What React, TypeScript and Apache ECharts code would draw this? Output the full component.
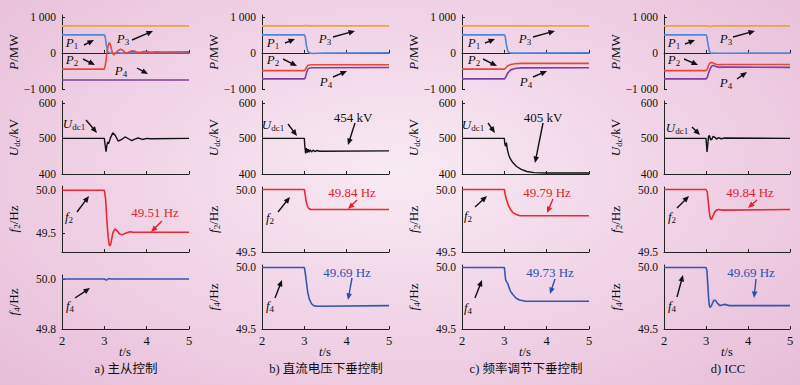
import React, { useEffect, useRef } from "react";
import * as echarts from "echarts";

// ---------- tick values ----------
const T_TICKS = [2, 3, 4, 5];
const P_TICKS = [-1000, 0, 1000];
const U_TICKS = [400, 500, 600];
const F_TICKS = [49.5, 50.0];
const F4A_TICKS = [49.8, 50.0];

// ---------- a) master-slave ----------
const aP1 = [[2, 500], [3, 500], [3.02, 450], [3.05, 200], [3.08, 40], [3.12, 0], [3.2, -10], [3.3, 5], [3.4, -5], [3.6, 2], [5, 0]];
const aP2 = [[2, -450], [3, -450], [3.03, -300], [3.06, 0], [3.09, 200], [3.12, 290], [3.15, 200], [3.19, 0], [3.22, -50], [3.26, -20], [3.32, 60], [3.38, 100], [3.43, 80], [3.5, 0], [3.56, 10], [3.63, 50], [3.7, 55], [3.78, 20], [3.86, 15], [3.94, 40], [4.02, 35], [4.1, 20], [4.2, 30], [4.4, 25], [5, 30]];
const aP3 = [[2, 750], [3, 750], [4, 750], [5, 750]];
const aP4 = [[2, -750], [3, -750], [4, -750], [5, -750]];
const aU = [[2, 500], [3, 500], [3.02, 480], [3.04, 463], [3.06, 480], [3.08, 490], [3.1, 485], [3.14, 500], [3.2, 516], [3.26, 508], [3.33, 492], [3.41, 497], [3.49, 504], [3.57, 499], [3.65, 494], [3.72, 498], [3.8, 501], [3.9, 497], [4.0, 500], [4.1, 499], [5, 500]];
const aF2 = [[2, 50], [3, 50], [3.03, 49.9], [3.06, 49.65], [3.09, 49.45], [3.12, 49.35], [3.15, 49.37], [3.2, 49.5], [3.25, 49.55], [3.3, 49.53], [3.36, 49.49], [3.42, 49.48], [3.5, 49.5], [3.6, 49.515], [3.7, 49.51], [5, 49.51]];
const aF4 = [[2, 50], [3, 50], [3.03, 49.997], [3.06, 49.996], [3.1, 50.002], [3.15, 50.0], [5, 50]];

// ---------- b) DC voltage droop ----------
const bP1 = [[2, 500], [3, 500], [3.02, 450], [3.05, 200], [3.08, 50], [3.12, 0], [3.18, -15], [3.3, -10], [3.5, -5], [5, 0]];
const bP2 = [[2, -490], [3, -490], [3.02, -470], [3.05, -400], [3.08, -350], [3.12, -335], [3.2, -330], [5, -330]];
const bP3 = [[2, 750], [3, 750], [3.03, 770], [3.06, 745], [3.1, 755], [3.15, 750], [5, 750]];
const bP4 = [[2, -720], [3, -720], [3.02, -700], [3.05, -560], [3.08, -450], [3.12, -420], [3.2, -410], [5, -405]];
const bU = [[2, 500], [3, 500], [3.01, 480], [3.03, 458], [3.05, 473], [3.07, 460], [3.09, 470], [3.11, 461], [3.14, 468], [3.17, 462], [3.21, 467], [3.25, 463], [3.3, 466], [3.36, 464], [5, 465]];
const bF2 = [[2, 50], [3, 50], [3.02, 49.96], [3.04, 49.91], [3.07, 49.87], [3.1, 49.85], [3.15, 49.84], [5, 49.84]];
const bF4 = [[2, 50], [3, 50], [3.02, 49.96], [3.05, 49.88], [3.08, 49.8], [3.12, 49.74], [3.17, 49.705], [3.22, 49.69], [3.3, 49.685], [5, 49.69]];

// ---------- c) frequency regulation droop ----------
const cP1 = [[2, 500], [3, 500], [3.02, 460], [3.05, 220], [3.08, 60], [3.12, 5], [3.2, -5], [5, 0]];
const cP2 = [[2, -450], [3, -450], [3.03, -420], [3.08, -360], [3.15, -320], [3.25, -300], [3.4, -290], [5, -290]];
const cP3 = [[2, 750], [3, 750], [4, 750], [5, 750]];
const cP4 = [[2, -720], [3, -720], [3.03, -680], [3.08, -560], [3.15, -470], [3.25, -430], [3.4, -415], [5, -410]];
const cU = [[2, 500], [3, 500], [3.01, 485], [3.03, 478], [3.05, 488], [3.07, 470], [3.1, 455], [3.14, 443], [3.2, 432], [3.29, 421], [3.4, 413], [3.53, 407], [3.7, 404], [4, 403], [5, 403]];
const cF2 = [[2, 50], [3, 50], [3.02, 49.96], [3.05, 49.92], [3.1, 49.87], [3.15, 49.84], [3.2, 49.815], [3.28, 49.8], [3.37, 49.79], [5, 49.79]];
const cF4 = [[2, 50], [3, 50], [3.01, 49.97], [3.03, 49.9], [3.05, 49.885], [3.08, 49.87], [3.1, 49.85], [3.14, 49.81], [3.2, 49.78], [3.28, 49.75], [3.36, 49.735], [3.5, 49.725], [5, 49.725]];

// ---------- d) ICC ----------
const dP1 = [[2, 500], [3, 500], [3.02, 460], [3.05, 220], [3.08, 50], [3.12, -15], [3.18, -5], [3.3, -8], [5, -5]];
const dP2 = [[2, -490], [3, -490], [3.02, -470], [3.05, -380], [3.08, -300], [3.12, -265], [3.16, -270], [3.22, -310], [3.28, -330], [3.35, -325], [3.45, -320], [5, -320]];
const dP3 = [[2, 750], [3, 750], [3.05, 745], [3.1, 728], [3.15, 745], [3.2, 750], [5, 750]];
const dP4 = [[2, -720], [3, -720], [3.03, -680], [3.06, -560], [3.1, -440], [3.14, -360], [3.18, -350], [3.24, -380], [3.3, -400], [3.4, -395], [5, -400]];
const dU = [[2, 500], [3, 500], [3.01, 485], [3.025, 462], [3.04, 480], [3.06, 505], [3.08, 508], [3.11, 496], [3.14, 498], [3.17, 506], [3.21, 503], [3.25, 498], [3.3, 502], [3.36, 499], [3.45, 501], [5, 500]];
const dF2 = [[2, 50], [3, 50], [3.03, 49.98], [3.06, 49.88], [3.09, 49.79], [3.12, 49.76], [3.15, 49.775], [3.2, 49.815], [3.25, 49.835], [3.3, 49.84], [3.4, 49.835], [5, 49.84]];
const dF4 = [[2, 50], [3, 50], [3.02, 49.98], [3.04, 49.88], [3.06, 49.76], [3.08, 49.69], [3.1, 49.675], [3.13, 49.69], [3.18, 49.73], [3.22, 49.735], [3.27, 49.71], [3.33, 49.69], [3.38, 49.695], [3.45, 49.7], [3.55, 49.69], [5, 49.69]];

const CAPTIONS = ["a) 主从控制", "b) 直流电压下垂控制", "c) 频率调节下垂控制", "d) ICC"];
const F2_LABELS = ["49.51 Hz", "49.84 Hz", "49.79 Hz", "49.84 Hz"];
const F4_LABELS = ["", "49.69 Hz", "49.73 Hz", "49.69 Hz"];
const U_LABELS = ["", "454 kV", "405 kV", ""];

// ---------- styles ----------
const SERIF = '"Liberation Serif", "Times New Roman", serif';
const CJK = '"Liberation Serif", "Noto Sans CJK SC", sans-serif';
const C_P1 = "#4f86d9";
const C_P2 = "#e8473a";
const C_P3 = "#eba443";
const C_P4 = "#7b3fa6";
const C_U = "#111111";
const C_F2 = "#ec2632";
const C_F4 = "#3556b0";
const C_AX = "#222222";

const panels = [
  { P: [aP1, aP2, aP3, aP4], U: aU, F2: aF2, F4: aF4 },
  { P: [bP1, bP2, bP3, bP4], U: bU, F2: bF2, F4: bF4 },
  { P: [cP1, cP2, cP3, cP4], U: cU, F2: cF2, F4: cF4 },
  { P: [dP1, dP2, dP3, dP4], U: dU, F2: dF2, F4: dF4 },
];

const COL_LEFT = [62, 262, 462, 664];
const COL_W = [127, 127, 127, 126];

function gridBox(row: number, col: number) {
  if (row === 0) return { top: 15, height: 74 };
  if (row === 1) return { top: 101, height: 73 };
  if (row === 2) return col === 0 ? { top: 186, height: 66 } : { top: 187, height: 65 };
  return col === 0 ? { top: 275, height: 54 } : { top: 265, height: 64 };
}

function yRange(row: number, col: number) {
  if (row === 0) return { min: -1000, max: 1050, ticks: P_TICKS };
  if (row === 1) return { min: 400, max: 605, ticks: U_TICKS };
  if (row === 2) return col === 0 ? { min: 49.28, max: 50.05, ticks: F_TICKS } : { min: 49.5, max: 50.02, ticks: F_TICKS };
  return col === 0 ? { min: 49.8, max: 50.016, ticks: F4A_TICKS } : { min: 49.5, max: 50.02, ticks: F_TICKS };
}

function fmtY(row: number, v: number) {
  if (row === 0) {
    if (v === 0) return "0";
    const s = Math.abs(v) === 1000 ? "1 000" : String(Math.abs(v));
    return v < 0 ? "\u2212" + s : s;
  }
  if (row === 1) return String(v);
  return v.toFixed(1);
}

const AX_NAMES = ["{i|P}{n|/MW}", "{i|U}{s|dc}{n|/kV}", "{i|f}{s|2}{n|/Hz}", "{i|f}{s|4}{n|/Hz}"];

const richBase = (size: number, color: string) => ({
  i: { fontFamily: SERIF, fontStyle: "italic", fontSize: size, color, lineHeight: size + 3 },
  n: { fontFamily: SERIF, fontSize: size, color, lineHeight: size + 3 },
  s: { fontFamily: SERIF, fontSize: Math.round(size * 0.68), color, lineHeight: Math.round(size * 0.68), verticalAlign: "bottom" },
});

function arrow(x1: number, y1: number, x2: number, y2: number, color: string) {
  const dx = x2 - x1, dy = y2 - y1;
  const L = Math.hypot(dx, dy);
  const ux = dx / L, uy = dy / L;
  const hl = 6.5, hw = 2.8;
  const bx = x2 - ux * hl, by = y2 - uy * hl;
  return [
    { type: "line", silent: true, shape: { x1, y1, x2: bx + ux, y2: by + uy }, style: { stroke: color, lineWidth: 1.4 } },
    { type: "polygon", silent: true, shape: { points: [[x2, y2], [bx - uy * hw, by + ux * hw], [bx + uy * hw, by - ux * hw]] }, style: { fill: color } },
  ];
}

function rtext(x: number, y: number, text: string, color = "#111", size = 13) {
  return {
    type: "text", silent: true, x, y,
    style: { text, rich: richBase(size, color), align: "center", verticalAlign: "middle", fill: color, fontFamily: SERIF, fontSize: size },
  };
}

function ptext(x: number, y: number, text: string, color: string, size = 13, font = SERIF) {
  return {
    type: "text", silent: true, x, y,
    style: { text, fill: color, font: `${size}px ${font}`, align: "center", verticalAlign: "middle" },
  };
}

function buildOption() {
  const grid: any[] = [];
  const xAxis: any[] = [];
  const yAxis: any[] = [];
  const series: any[] = [];
  let idx = 0;
  for (let col = 0; col < 4; col++) {
    for (let row = 0; row < 4; row++) {
      const gb = gridBox(row, col);
      grid.push({ left: COL_LEFT[col], width: COL_W[col], top: gb.top, height: gb.height, outerBoundsMode: "none", containLabel: false });
      xAxis.push({
        type: "value", gridIndex: idx, min: T_TICKS[0], max: T_TICKS[T_TICKS.length - 1], interval: 1,
        axisLine: { show: true, lineStyle: { color: C_AX, width: 1 } },
        axisTick: { show: true, inside: true, length: 3, lineStyle: { color: C_AX } },
        axisLabel: { show: row === 3, color: "#111", fontFamily: SERIF, fontSize: 12.5, margin: 5 },
        splitLine: { show: false },
      });
      const yr = yRange(row, col);
      yAxis.push({
        type: "value", gridIndex: idx, min: yr.min, max: yr.max,
        name: AX_NAMES[row], nameLocation: "middle", nameGap: 41, nameRotate: 90,
        nameTextStyle: { rich: richBase(13, "#111"), color: "#111" },
        axisLine: { show: true, lineStyle: { color: C_AX, width: 1 } },
        axisTick: { show: true, inside: true, length: 3, customValues: yr.ticks, lineStyle: { color: C_AX } },
        axisLabel: { show: true, customValues: yr.ticks, color: "#111", fontFamily: SERIF, fontSize: 11.5, margin: 6, formatter: (v: number) => fmtY(row, v) },
        splitLine: { show: false },
      });
      const p = panels[col];
      const line = (data: number[][], color: string, w = 1.6) =>
        series.push({ type: "line", xAxisIndex: idx, yAxisIndex: idx, data, showSymbol: false, symbol: "none", lineStyle: { color, width: w }, itemStyle: { color }, silent: true, clip: true, z: 2 });
      if (row === 0) {
        line(p.P[2], C_P3); line(p.P[3], C_P4); line(p.P[0], C_P1); line(p.P[1], C_P2);
      } else if (row === 1) line(p.U, C_U, 1.4);
      else if (row === 2) line(p.F2, C_F2);
      else line(p.F4, C_F4);
      idx++;
    }
  }

  const g: any[] = [];
  const K = "#111";
  const R = "#e8202a";
  const B = "#2d4fb0";
  // column a
  g.push(rtext(72, 42, "{i|P}{s|1}"), ...arrow(84, 45, 94, 40, K));
  g.push(rtext(72, 59, "{i|P}{s|2}"), ...arrow(83, 59, 95, 65, K));
  g.push(rtext(123, 38, "{i|P}{s|3}"), ...arrow(132, 40, 153, 31, K));
  g.push(rtext(121, 70, "{i|P}{s|4}"), ...arrow(137, 68, 148, 74, K));
  g.push(rtext(74, 123, "{i|U}{s|dc1}"), ...arrow(86, 120, 97, 133, K));
  g.push(rtext(69, 216, "{i|f}{s|2}"), ...arrow(77, 212, 89, 196, K));
  g.push(ptext(155, 212, F2_LABELS[0], R), ...arrow(162, 221, 151, 232, R));
  g.push(rtext(70, 305, "{i|f}{s|4}"), ...arrow(75, 298, 90, 288, K));
  // column b
  g.push(rtext(273, 42, "{i|P}{s|1}"), ...arrow(285, 43, 295, 39, K));
  g.push(rtext(273, 59, "{i|P}{s|2}"), ...arrow(283, 59, 297, 66, K));
  g.push(rtext(325, 38, "{i|P}{s|3}"), ...arrow(333, 37, 355, 31, K));
  g.push(rtext(326, 81, "{i|P}{s|4}"), ...arrow(333, 77, 347, 71, K));
  g.push(rtext(273, 124, "{i|U}{s|dc1}"), ...arrow(288, 124, 297, 136, K));
  g.push(ptext(353, 117, U_LABELS[1], K), ...arrow(355, 123, 348, 145, K));
  g.push(rtext(270, 217, "{i|f}{s|2}"), ...arrow(278, 212, 290, 197, K));
  g.push(ptext(352, 192, F2_LABELS[1], R), ...arrow(357, 200, 348, 209, R));
  g.push(rtext(270, 305, "{i|f}{s|4}"), ...arrow(275, 298, 282, 280, K));
  g.push(ptext(347, 272, F4_LABELS[1], B), ...arrow(352, 278, 348, 300, B));
  // column c
  g.push(rtext(474, 42, "{i|P}{s|1}"), ...arrow(485, 43, 495, 39, K));
  g.push(rtext(474, 59, "{i|P}{s|2}"), ...arrow(483, 59, 497, 66, K));
  g.push(rtext(525, 38, "{i|P}{s|3}"), ...arrow(533, 37, 555, 31, K));
  g.push(rtext(526, 81, "{i|P}{s|4}"), ...arrow(533, 77, 547, 71, K));
  g.push(rtext(473, 124, "{i|U}{s|dc1}"), ...arrow(488, 123, 495, 133, K));
  g.push(ptext(543, 117, U_LABELS[2], K), ...arrow(543, 123, 535, 163, K));
  g.push(rtext(468, 215, "{i|f}{s|2}"), ...arrow(475, 207, 487, 196, K));
  g.push(ptext(547, 192, F2_LABELS[2], R), ...arrow(553, 199, 547, 213, R));
  g.push(rtext(468, 307, "{i|f}{s|4}"), ...arrow(475, 298, 482, 280, K));
  g.push(ptext(550, 272, F4_LABELS[2], B), ...arrow(555, 279, 550, 294, B));
  // column d
  g.push(rtext(674, 42, "{i|P}{s|1}"), ...arrow(685, 44, 695, 40, K));
  g.push(rtext(674, 59, "{i|P}{s|2}"), ...arrow(684, 59, 698, 65, K));
  g.push(rtext(726, 38, "{i|P}{s|3}"), ...arrow(733, 37, 755, 31, K));
  g.push(rtext(726, 82, "{i|P}{s|4}"), ...arrow(737, 79, 747, 72, K));
  g.push(rtext(677, 127, "{i|U}{s|dc1}"), ...arrow(692, 127, 700, 135, K));
  g.push(rtext(672, 216, "{i|f}{s|2}"), ...arrow(677, 208, 689, 196, K));
  g.push(ptext(750, 192, F2_LABELS[3], R), ...arrow(757, 200, 748, 208, R));
  g.push(rtext(672, 305, "{i|f}{s|4}"), ...arrow(677, 297, 683, 275, K));
  g.push(ptext(751, 272, F4_LABELS[3], B), ...arrow(756, 279, 754, 298, B));
  // x names and captions
  const cx = [125, 325, 525, 727];
  for (let i = 0; i < 4; i++) {
    g.push(rtext(cx[i], 352, "{i|t}{n|/s}", "#111", 12.5));
    g.push(ptext(cx[i] + 1, 369, CAPTIONS[i], "#111", 12.5, CJK));
  }

  return { animation: false, backgroundColor: "transparent", grid, xAxis, yAxis, series, graphic: { elements: g } };
}

export default function App() {
  const ref = useRef<HTMLDivElement>(null);
  useEffect(() => {
    document.body.style.margin = "0";
    const chart = echarts.init(ref.current!, undefined, { renderer: "svg", width: 800, height: 385 });
    chart.setOption(buildOption() as any);
    return () => chart.dispose();
  }, []);
  return (
    <div
      style={{
        width: 800,
        height: 385,
        background:
          "radial-gradient(ellipse 75% 85% at 50% 45%, #f8eaf3 0%, #f1d4e7 45%, #e6bad6 100%)",
      }}
    >
      <div ref={ref} style={{ width: 800, height: 385 }} />
    </div>
  );
}
